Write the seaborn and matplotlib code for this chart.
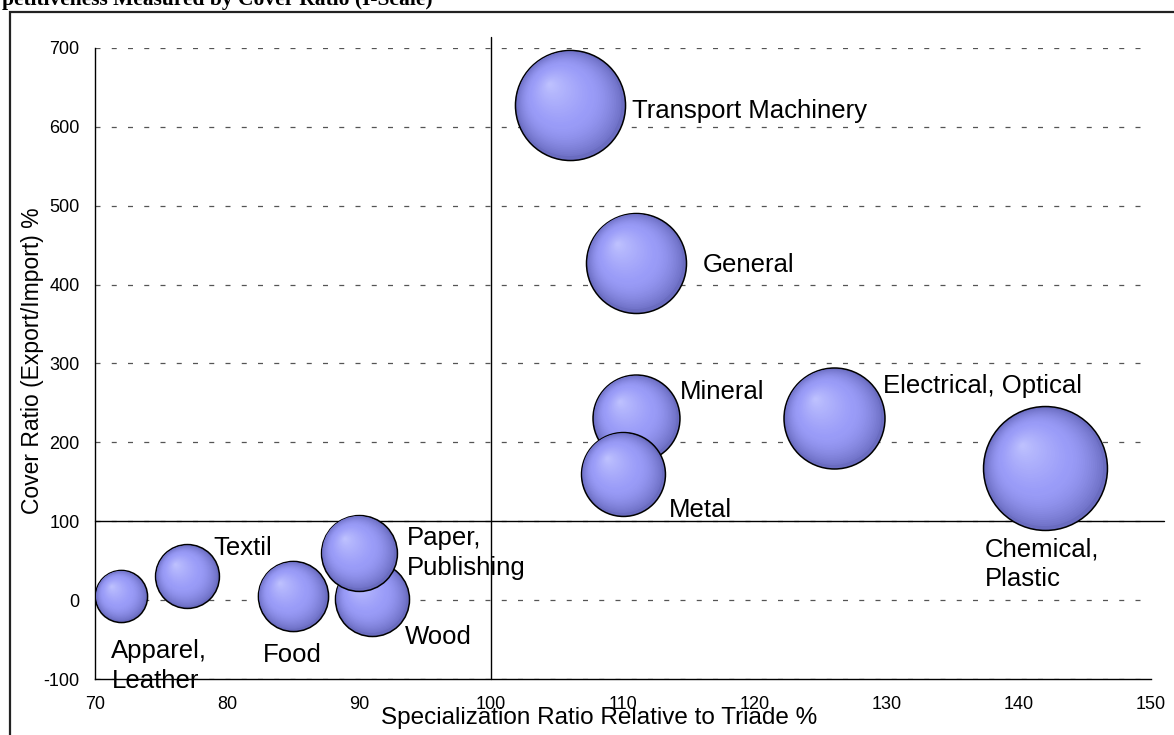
import numpy as np
import pandas as pd
import matplotlib
matplotlib.use("Agg")
import matplotlib.pyplot as plt
import matplotlib.colors as mcolors
from matplotlib.patches import Rectangle
import seaborn as sns

# data
sectors = ["Apparel,\nLeather", "Textil", "Food", "Wood", "Paper,\nPublishing",
           "Transport Machinery", "General", "Mineral", "Metal",
           "Electrical, Optical", "Chemical,\nPlastic"]
specialization = [72, 77, 85, 91, 90, 106, 111, 111, 110, 126, 142]
cover_ratio = [5, 30, 5, 2, 60, 628, 428, 231, 160, 231, 167]
bubble_size = [6.8, 10.2, 12.3, 13.7, 14.4, 30.3, 25.0, 18.9, 17.6, 25.5, 38.4]

x_ticks = [70, 80, 90, 100, 110, 120, 130, 140, 150]
y_ticks = [-100, 0, 100, 200, 300, 400, 500, 600, 700]

# label placement, pixels from bubble centre (dx right, dy down)
label_offsets = [(-10, 70), (26, -28), (-30, 59), (33, 38), (48, 0),
                 (62, 6), (67, 2), (44, -26), (46, 36), (49, -32), (-61, 96)]

df = pd.DataFrame({"sector": sectors, "spec": specialization,
                   "cover": cover_ratio, "size": bubble_size})

sns.set_style("white")
plt.rcParams["font.family"] = ["Liberation Sans", "DejaVu Sans"]
plt.rcParams["text.color"] = "black"
plt.rcParams["axes.labelcolor"] = "black"
plt.rcParams["axes.unicode_minus"] = False

W, H = 1174, 735
fig = plt.figure(figsize=(W / 100, H / 100), dpi=100)
ax = fig.add_axes([95 / W, 56 / H, 1056 / W, 631 / H])
ax.set_xlim(70, 150)
ax.set_ylim(-100, 700)

# px^2 -> pt^2 at 100 dpi: s = (2 r * 0.72)^2, bubble_size = r^2 / 100
s_scale = 207.36

rim = np.array(mcolors.to_rgb("#6a6cc0"))
mid = np.array(mcolors.to_rgb("#9a9cf8"))
hi = np.array(mcolors.to_rgb("#c2c5ff"))


def shade(f):
    # f = 1 at the rim, 0 at the highlight
    if f > 0.55:
        t = (f - 0.55) / 0.45
        return tuple(mid + (rim - mid) * t ** 1.6)
    t = f / 0.55
    return tuple(hi + (mid - hi) * t ** 0.8)


to_disp = ax.transData
to_data = ax.transData.inverted()

for i, row in df.iterrows():
    z = 3 + i
    s = s_scale * row["size"]
    r_px = np.sqrt(s) / 1.44
    sns.scatterplot(data=df.iloc[[i]], x="spec", y="cover", s=s, color=shade(1.0),
                    edgecolor="black", linewidth=1.1, zorder=z, legend=False, ax=ax)
    cx, cy = to_disp.transform((row["spec"], row["cover"]))
    for f in np.linspace(0.95, 0.04, 40):
        px = cx - (1 - f) * 0.38 * r_px
        py = cy + (1 - f) * 0.38 * r_px
        dx, dy = to_data.transform((px, py))
        ax.scatter([dx], [dy], s=s * f ** 2, color=shade(f), edgecolor="none",
                   zorder=z + 0.5 * (1 - f) + 0.01)

    ox, oy = label_offsets[i]
    ax.annotate(row["sector"], (row["spec"], row["cover"]), xytext=(ox, -oy),
                textcoords="offset pixels", ha="left", va="center",
                fontsize=18.5, linespacing=1.3, zorder=30)

# quadrant lines at 100 / 100
ax.plot([100, 100], [-100, 714], color="black", lw=1, clip_on=False, zorder=2)
ax.plot([70, 151], [100, 100], color="black", lw=1, clip_on=False, zorder=2)

ax.set_xticks(x_ticks)
ax.set_yticks(y_ticks)
ax.tick_params(axis="both", direction="in", length=4, width=1, labelsize=13,
               colors="black")
ax.tick_params(axis="x", pad=12)
ax.tick_params(axis="y", pad=11)
ax.grid(axis="y", linestyle=(0, (4, 9)), color="#555555", linewidth=0.9)
ax.set_axisbelow(True)
sns.despine(ax=ax)
for side in ["left", "bottom"]:
    ax.spines[side].set_color("black")
    ax.spines[side].set_linewidth(1)

ax.set_xlabel("Specialization Ratio Relative to Triade %", fontsize=17.5, va="center")
ax.set_ylabel("Cover Ratio (Export/Import) %", fontsize=16.5, va="center")
ax.xaxis.set_label_coords((599 - 95) / 1056, -(718 - 679) / 631)
ax.yaxis.set_label_coords((33 - 95) / 1056, (679 - 361) / 631)

# cut-off title and surrounding frame
fig.text(0.002, 1 - 5 / H, "petitiveness Measured by Cover Ratio (I-Scale)",
         family="Liberation Serif", weight="bold", fontsize=15.5,
         ha="left", va="baseline")
fig.patches.append(Rectangle((10 / W, -0.1), 1.2, 1.1 - 12 / H, transform=fig.transFigure,
                             fill=False, lw=1.6, ec="#222222", clip_on=False))

fig.savefig("out.png", dpi=100)
